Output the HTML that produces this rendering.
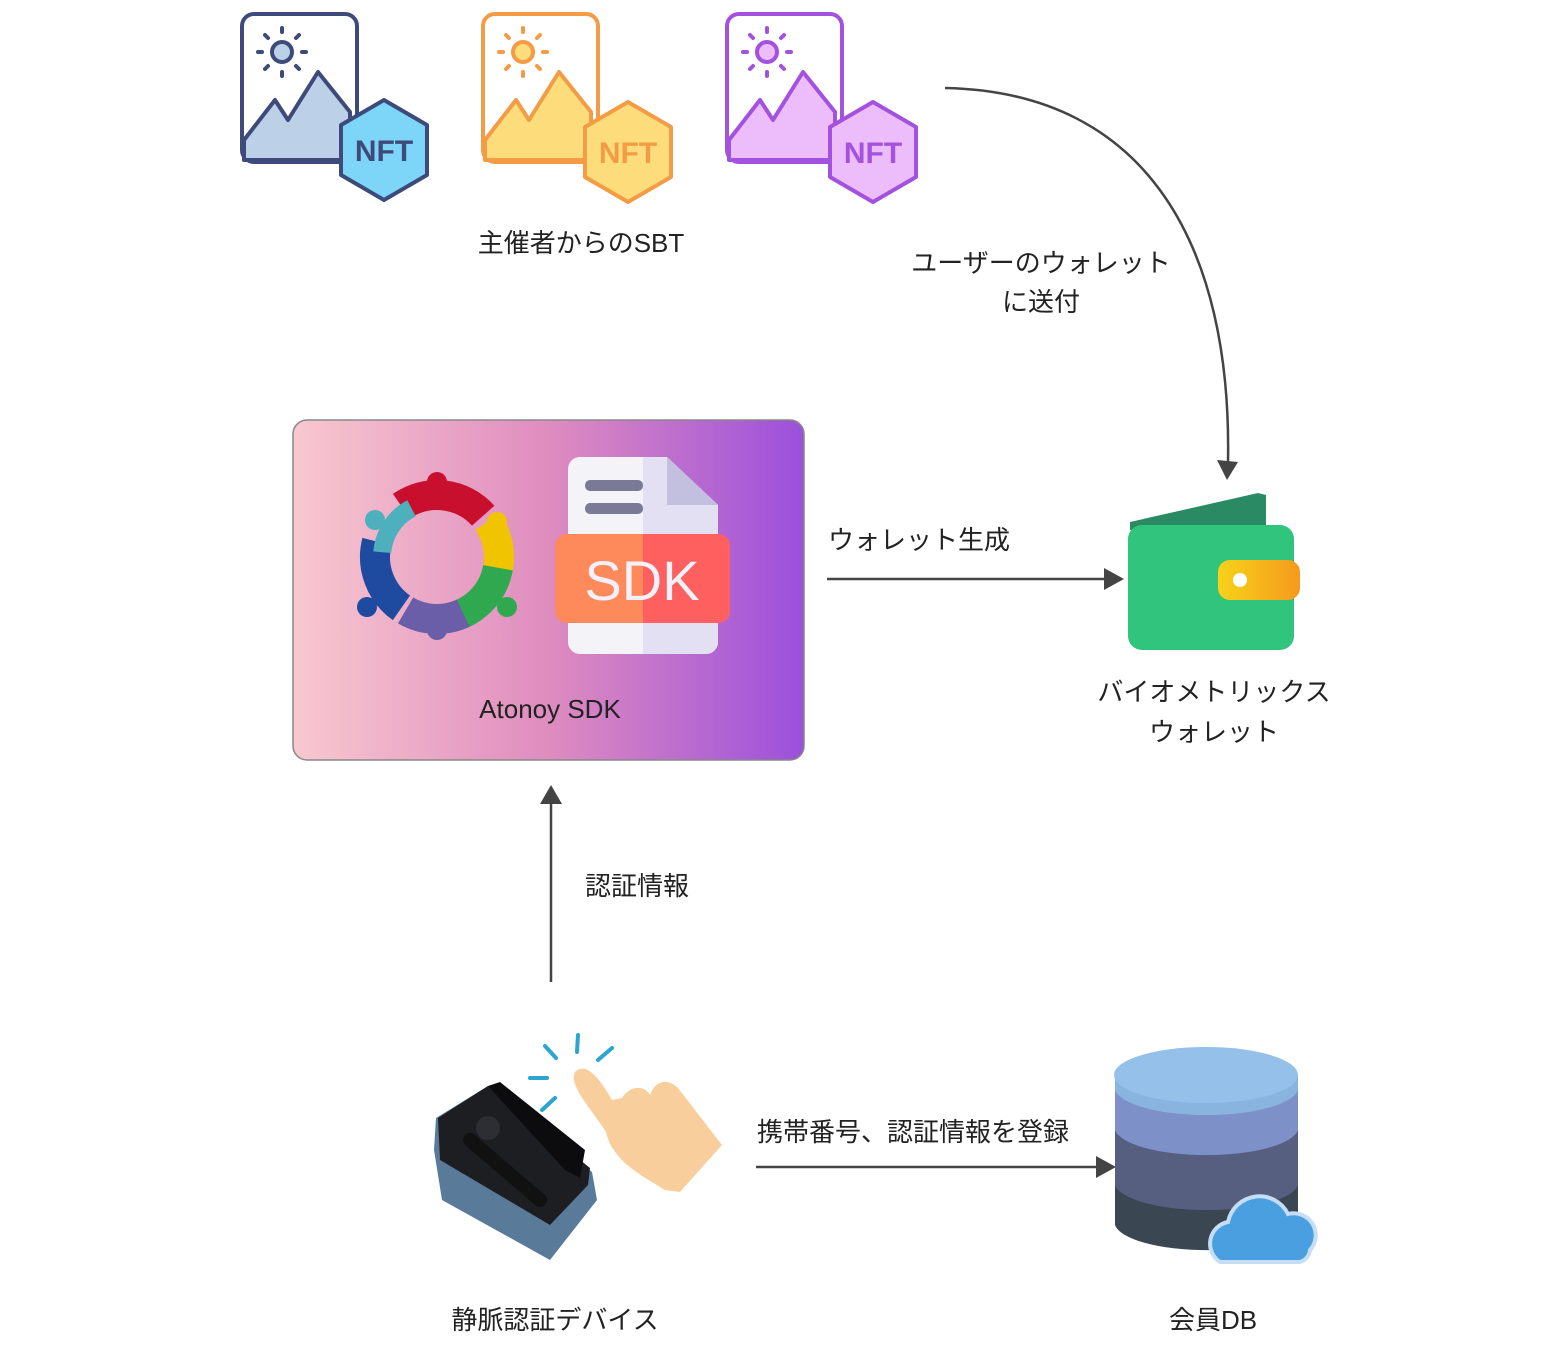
<!DOCTYPE html>
<html><head><meta charset="utf-8"><style>
html,body{margin:0;padding:0;background:#fff;}
svg{display:block;}
text{font-family:"Liberation Sans","Noto Sans CJK JP",sans-serif;fill:#222;}
</style></head><body>
<svg width="1562" height="1350" viewBox="0 0 1562 1350" xmlns="http://www.w3.org/2000/svg">
<defs>
<linearGradient id="sdkg" x1="0" x2="1" y1="0" y2="0">
<stop offset="0" stop-color="#f8c8cf"/><stop offset="0.5" stop-color="#df8cbf"/><stop offset="1" stop-color="#9b50dc"/>
</linearGradient>
<linearGradient id="clasp" x1="0" x2="1"><stop offset="0" stop-color="#f7d21a"/><stop offset="1" stop-color="#f59a1c"/></linearGradient>
</defs>

<!-- NFT icons -->
<g transform="translate(240,12)">
<rect x="2" y="2" width="115" height="148" rx="12" fill="#fff" stroke="#3d4a7a" stroke-width="4"/>
<polygon points="4,128 35,88 48,108 78,60 110,100 110,148 4,148" fill="#bcd0e8" stroke="#3d4a7a" stroke-width="4" stroke-linejoin="round"/>
<circle cx="42" cy="40" r="10" fill="#bcd0e8" stroke="#3d4a7a" stroke-width="4"/>
<polygon points="144,88 187,113 187,163 144,188 101,163 101,113" fill="#7dd6f7" stroke="#3d4a7a" stroke-width="4" stroke-linejoin="round"/>
<text x="144" y="149" text-anchor="middle" font-size="30" font-weight="bold" style="fill:#3d4a7a">NFT</text>
</g>
<g transform="translate(481,12)">
<rect x="2" y="2" width="115" height="148" rx="12" fill="#fff" stroke="#f39c45" stroke-width="4"/>
<polygon points="4,128 35,88 48,108 78,60 110,100 110,148 4,148" fill="#fddc7c" stroke="#f39c45" stroke-width="4" stroke-linejoin="round"/>
<circle cx="42" cy="40" r="10" fill="#fddc7c" stroke="#f39c45" stroke-width="4"/>
<polygon points="147,90 190,115 190,165 147,190 104,165 104,115" fill="#fddc7c" stroke="#f39c45" stroke-width="4" stroke-linejoin="round"/>
<text x="147" y="151" text-anchor="middle" font-size="30" font-weight="bold" style="fill:#f39c45">NFT</text>
</g>
<g transform="translate(725,12)">
<rect x="2" y="2" width="115" height="148" rx="12" fill="#fff" stroke="#a352e0" stroke-width="4"/>
<polygon points="4,128 35,88 48,108 78,60 110,100 110,148 4,148" fill="#ecbdfa" stroke="#a352e0" stroke-width="4" stroke-linejoin="round"/>
<circle cx="42" cy="40" r="10" fill="#ecbdfa" stroke="#a352e0" stroke-width="4"/>
<polygon points="148,90 191,115 191,165 148,190 105,165 105,115" fill="#ecbdfa" stroke="#a352e0" stroke-width="4" stroke-linejoin="round"/>
<text x="148" y="151" text-anchor="middle" font-size="30" font-weight="bold" style="fill:#a352e0">NFT</text>
</g>
<g stroke-width="4" stroke-linecap="round">
<g stroke="#3d4a7a" transform="translate(240,12)"><line x1="42" y1="16" x2="42" y2="20"/><line x1="42" y1="60" x2="42" y2="64"/><line x1="18" y1="40" x2="22" y2="40"/><line x1="62" y1="40" x2="66" y2="40"/><line x1="25" y1="23" x2="28" y2="26"/><line x1="56" y1="54" x2="59" y2="57"/><line x1="59" y1="23" x2="56" y2="26"/><line x1="25" y1="57" x2="28" y2="54"/></g>
<g stroke="#f39c45" transform="translate(481,12)"><line x1="42" y1="16" x2="42" y2="20"/><line x1="42" y1="60" x2="42" y2="64"/><line x1="18" y1="40" x2="22" y2="40"/><line x1="62" y1="40" x2="66" y2="40"/><line x1="25" y1="23" x2="28" y2="26"/><line x1="56" y1="54" x2="59" y2="57"/><line x1="59" y1="23" x2="56" y2="26"/><line x1="25" y1="57" x2="28" y2="54"/></g>
<g stroke="#a352e0" transform="translate(725,12)"><line x1="42" y1="16" x2="42" y2="20"/><line x1="42" y1="60" x2="42" y2="64"/><line x1="18" y1="40" x2="22" y2="40"/><line x1="62" y1="40" x2="66" y2="40"/><line x1="25" y1="23" x2="28" y2="26"/><line x1="56" y1="54" x2="59" y2="57"/><line x1="59" y1="23" x2="56" y2="26"/><line x1="25" y1="57" x2="28" y2="54"/></g>
</g>

<text x="581" y="252" text-anchor="middle" font-size="26">主催者からのSBT</text>

<!-- curved arrow -->
<path d="M945,88 C1150,92 1232,250 1228,462" fill="none" stroke="#444" stroke-width="2.5"/>
<polygon points="1217,460 1238,462 1227,480" fill="#444"/>
<text x="1041" y="272" text-anchor="middle" font-size="26">ユーザーのウォレット</text>
<text x="1041" y="311" text-anchor="middle" font-size="26">に送付</text>

<!-- SDK box -->
<rect x="293" y="420" width="511" height="340" rx="14" fill="url(#sdkg)" stroke="#888" stroke-width="1.5"/>
<g transform="translate(437,557)" fill="none" stroke-width="30">
<circle r="62" stroke="#c8102e" stroke-dasharray="90 400" transform="rotate(-125)"/>
<circle r="62" stroke="#f1c400" stroke-dasharray="62 400" transform="rotate(-35)"/>
<circle r="62" stroke="#2fa84f" stroke-dasharray="75 400" transform="rotate(10)"/>
<circle r="62" stroke="#6a5ea8" stroke-dasharray="60 400" transform="rotate(65)"/>
<circle r="62" stroke="#1e4aa0" stroke-dasharray="75 400" transform="rotate(125)"/>
<circle r="55" stroke="#4fb0bd" stroke-width="18" stroke-dasharray="55 400" transform="rotate(185)"/>
</g>
<circle cx="437" cy="482" r="10" fill="#c8102e"/>
<circle cx="367" cy="607" r="10" fill="#1e4aa0"/>
<circle cx="507" cy="607" r="10" fill="#2fa84f"/>
<circle cx="437" cy="630" r="10" fill="#6a5ea8"/>
<circle cx="375" cy="520" r="10" fill="#4fb0bd"/>
<circle cx="497" cy="522" r="10" fill="#f1c400"/>
<path d="M580,457 H667 L718,505 V642 a12,12 0 0 1 -12,12 H580 a12,12 0 0 1 -12,-12 V469 a12,12 0 0 1 12,-12 Z" fill="#f3f3f8"/>
<path d="M643,457 H667 L718,505 V642 a12,12 0 0 1 -12,12 H643 Z" fill="#e2e0f2"/>
<path d="M667,457 V505 H718 Z" fill="#c2c0de"/>
<rect x="585" y="480" width="58" height="11" rx="5" fill="#7a7a96"/>
<rect x="585" y="503" width="58" height="11" rx="5" fill="#7a7a96"/>
<rect x="555" y="534" width="175" height="89" rx="12" fill="#fe8a5c"/>
<path d="M643,534 H718 a12,12 0 0 1 12,12 V611 a12,12 0 0 1 -12,12 H643 Z" fill="#fe6060"/>
<text x="642" y="600" text-anchor="middle" font-size="56" style="fill:#f2f0f8">SDK</text>
<text x="550" y="718" text-anchor="middle" font-size="26">Atonoy SDK</text>

<line x1="827" y1="579" x2="1108" y2="579" stroke="#444" stroke-width="2.5"/>
<polygon points="1104,568 1124,579 1104,590" fill="#444"/>
<text x="828" y="549" font-size="26">ウォレット生成</text>

<!-- wallet -->
<polygon points="1130,522 1258,493 1266,495 1266,530 1130,530" fill="#2a8a64"/>
<rect x="1128" y="525" width="166" height="125" rx="14" fill="#30c47c"/>
<rect x="1218" y="560" width="82" height="40" rx="12" fill="url(#clasp)"/>
<circle cx="1240" cy="580" r="7" fill="#fff"/>
<text x="1214" y="701" text-anchor="middle" font-size="26">バイオメトリックス</text>
<text x="1214" y="741" text-anchor="middle" font-size="26">ウォレット</text>

<line x1="551" y1="982" x2="551" y2="800" stroke="#444" stroke-width="2.5"/>
<polygon points="540,804 551,785 562,804" fill="#444"/>
<text x="585" y="895" font-size="26">認証情報</text>

<!-- device -->
<path d="M436,1118 L488,1086 L592,1172 L597,1200 L550,1260 L442,1200 L434,1150 Z" fill="#5a7a9a"/>
<path d="M438,1118 L488,1086 L590,1168 L588,1185 L550,1225 L440,1160 Z" fill="#1c1e22"/>
<path d="M488,1086 L500,1082 L585,1150 L580,1178 L565,1170 Z" fill="#0c0c0e"/>
<circle cx="488" cy="1128" r="12" fill="#2c2e33"/>
<path d="M470,1140 L540,1200" stroke="#111" stroke-width="14" stroke-linecap="round"/>
<!-- hand -->
<path d="M575,1072 C585,1062 598,1075 612,1100 L622,1098 C630,1085 645,1085 650,1095 C655,1080 668,1078 678,1088 L722,1145 L680,1192 L665,1190 C640,1175 612,1160 606,1132 C592,1110 568,1085 575,1072 Z" fill="#f8cf9c"/>
<g stroke="#2aa6d0" stroke-width="4" stroke-linecap="round">
<line x1="578" y1="1035" x2="577" y2="1052"/><line x1="545" y1="1046" x2="556" y2="1058"/><line x1="612" y1="1048" x2="598" y2="1060"/><line x1="530" y1="1078" x2="547" y2="1078"/><line x1="542" y1="1110" x2="555" y2="1098"/>
</g>
<text x="555" y="1329" text-anchor="middle" font-size="26">静脈認証デバイス</text>

<line x1="756" y1="1167" x2="1100" y2="1167" stroke="#444" stroke-width="2.5"/>
<polygon points="1096,1156 1116,1167 1096,1178" fill="#444"/>
<text x="757" y="1141" font-size="26">携帯番号、認証情報を登録</text>

<!-- DB -->
<path d="M1115,1075 V1225 A92,28 0 0 0 1298,1225 V1075 Z" fill="#3a4652"/>
<path d="M1115,1075 V1185 A92,28 0 0 0 1298,1185 V1075 Z" fill="#565f80"/>
<path d="M1115,1075 V1130 A92,28 0 0 0 1298,1130 V1075 Z" fill="#7d90c8"/>
<path d="M1115,1075 V1090 A92,28 0 0 0 1298,1090 V1075 Z" fill="#8ab4e0"/>
<ellipse cx="1206" cy="1075" rx="92" ry="28" fill="#94c0ea"/>
<path d="M1220,1262 a22,22 0 0 1 8,-40 a32,32 0 0 1 60,-8 a22,22 0 0 1 22,36 a14,14 0 0 1 -10,12 Z" fill="#4a9fe0" stroke="#c5def5" stroke-width="4"/>
<text x="1213" y="1329" text-anchor="middle" font-size="26">会員DB</text>
</svg>
</body></html>
